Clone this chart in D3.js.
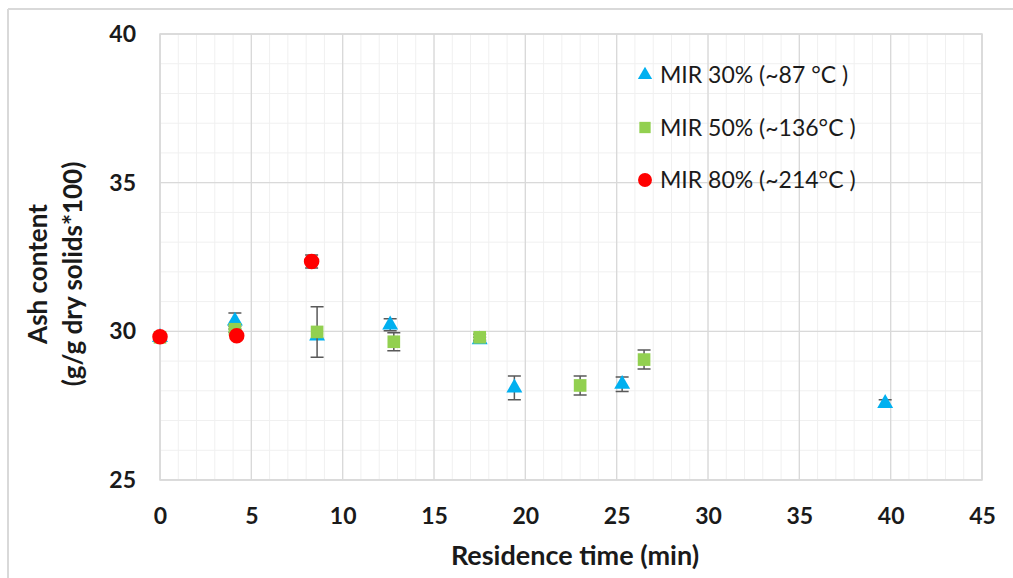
<!DOCTYPE html>
<html>
<head>
<meta charset="utf-8">
<script src="https://cdn.jsdelivr.net/npm/d3@7"></script>
<style>
  body { margin: 0; background: #fff; }
  text { font-family: Lato, "Open Sans", sans-serif; fill: #1a1a1a; }
</style>
</head>
<body>
<script>
var width = 1013;
var height = 578;

// data: [time, ash, errorHalf]
var mir30 = [[0, 29.8, 0], [4.1, 30.35, 0.27], [8.6, 29.85, 0], [12.6, 30.22, 0.2], [17.5, 29.72, 0.08],
             [19.4, 28.1, 0.4], [25.3, 28.22, 0.24], [39.7, 27.58, 0.12]];
var mir50 = [[0, 29.8, 0], [4.1, 30.07, 0.1], [8.6, 29.98, 0.85], [12.8, 29.65, 0.3], [17.5, 29.8, 0.1],
             [23.0, 28.18, 0.32], [26.5, 29.05, 0.32]];
var mir80 = [[0, 29.82, 0], [4.2, 29.85, 0], [8.3, 32.35, 0.22]];

var seriesNames = ["MIR 30% (~87 °C )", "MIR 50% (~136°C )", "MIR 80% (~214°C )"];
var seriesColors = ["#00b0f0", "#92d050", "#ff0000"];
var seriesShapes = [d3.symbolTriangle, d3.symbolSquare, d3.symbolCircle];
var seriesSizes = [110, 160, 190];

var xTicks = [0, 5, 10, 15, 20, 25, 30, 35, 40, 45];
var yTicks = [25, 30, 35, 40];

var margin = {left: 160, top: 34, right: 1013 - 982, bottom: 578 - 480};

var svg = d3.select("body")
            .append("svg")
            .attr("width", width)
            .attr("height", height);

// outer frame (top + left edges only are visible)
svg.append("line").attr("x1", 8).attr("y1", 9).attr("x2", width).attr("y2", 9)
   .style("stroke", "#d9d9d9").style("stroke-width", 2);
svg.append("line").attr("x1", 8).attr("y1", 9).attr("x2", 8).attr("y2", height)
   .style("stroke", "#d9d9d9").style("stroke-width", 2);

var x = d3.scaleLinear().domain([0, 45]).range([margin.left, width - margin.right]);
var y = d3.scaleLinear().domain([25, 40]).range([height - margin.bottom, margin.top]);

// minor grid
var g = svg.append("g");
g.selectAll("line.xminor")
  .data(d3.range(0, 46, 1))
  .enter().append("line")
  .attr("x1", function(d) { return x(d); }).attr("x2", function(d) { return x(d); })
  .attr("y1", y(25)).attr("y2", y(40))
  .style("stroke", "#f0f0f0").style("stroke-width", 1);
g.selectAll("line.yminor")
  .data(d3.range(25, 41, 1))
  .enter().append("line")
  .attr("x1", x(0)).attr("x2", x(45))
  .attr("y1", function(d) { return y(d); }).attr("y2", function(d) { return y(d); })
  .style("stroke", "#f0f0f0").style("stroke-width", 1);

// major grid
g.selectAll("line.xmajor")
  .data(xTicks)
  .enter().append("line")
  .attr("x1", function(d) { return x(d); }).attr("x2", function(d) { return x(d); })
  .attr("y1", y(25)).attr("y2", y(40))
  .style("stroke", "#d9d9d9").style("stroke-width", 1.3);
g.selectAll("line.ymajor")
  .data(yTicks)
  .enter().append("line")
  .attr("x1", x(0)).attr("x2", x(45))
  .attr("y1", function(d) { return y(d); }).attr("y2", function(d) { return y(d); })
  .style("stroke", "#d9d9d9").style("stroke-width", 1.3);

// plot border
svg.append("rect")
  .attr("x", x(0)).attr("y", y(40))
  .attr("width", x(45) - x(0)).attr("height", y(25) - y(40))
  .style("fill", "none").style("stroke", "#d9d9d9").style("stroke-width", 1.5);

// axes (labels only)
var xAxis = d3.axisBottom(x).tickValues(xTicks).tickSize(0).tickPadding(0);
var xg = svg.append("g").attr("transform", "translate(0," + (y(25) + 46) + ")").call(xAxis);
xg.select(".domain").remove();
xg.selectAll("text").style("font-size", "23px").style("font-weight", "bold").attr("dy", "-0.1em").style("fill", "#1a1a1a");

var yAxis = d3.axisLeft(y).tickValues(yTicks).tickSize(0).tickPadding(0);
var yg = svg.append("g").attr("transform", "translate(" + (x(0) - 24) + ",0)").call(yAxis);
yg.select(".domain").remove();
yg.selectAll("text").style("font-size", "23px").style("font-weight", "bold").style("fill", "#1a1a1a");

svg.append("text")
  .attr("x", 575).attr("y", 565)
  .attr("text-anchor", "middle")
  .style("font-size", "27px").style("font-weight", "bold")
  .text("Residence time (min)");

var yt = svg.append("text")
  .attr("transform", "translate(0,274) rotate(-90)")
  .attr("text-anchor", "middle")
  .style("font-size", "26px").style("font-weight", "bold");
yt.append("tspan").attr("x", 0).attr("y", 47).text("Ash content");
yt.append("tspan").attr("x", 0).attr("y", 82).text("(g/g dry solids*100)");

// series
var allSeries = [mir30, mir50, mir80];
allSeries.forEach(function(data, i) {
  var s = svg.append("g");
  s.selectAll("g.err")
    .data(data.filter(function(d) { return d[2] > 0; }))
    .enter().append("path")
    .attr("d", function(d) {
      var cx = x(d[0]), t = y(d[1] + d[2]), b = y(d[1] - d[2]);
      return "M" + (cx - 6.5) + "," + t + "H" + (cx + 6.5) + "M" + cx + "," + t + "V" + b +
             "M" + (cx - 6.5) + "," + b + "H" + (cx + 6.5);
    })
    .style("stroke", "#595959").style("stroke-width", 1.5).style("fill", "none");
  s.selectAll("path.pt")
    .data(data)
    .enter().append("path")
    .attr("transform", function(d) { return "translate(" + x(d[0]) + "," + y(d[1]) + ")"; })
    .attr("d", d3.symbol().type(seriesShapes[i]).size(seriesSizes[i]))
    .style("fill", seriesColors[i]);
});

// legend
var legend = svg.append("g").attr("transform", "translate(645,75)");
seriesNames.forEach(function(name, i) {
  var row = legend.append("g").attr("transform", "translate(0," + (i * 52.5) + ")");
  row.append("path")
    .attr("d", d3.symbol().type(seriesShapes[i]).size(seriesSizes[i] * 0.8))
    .style("fill", seriesColors[i]);
  row.append("text")
    .attr("x", 15).attr("y", 8)
    .style("font-size", "23px")
    .text(name);
});
</script>
</body>
</html>
